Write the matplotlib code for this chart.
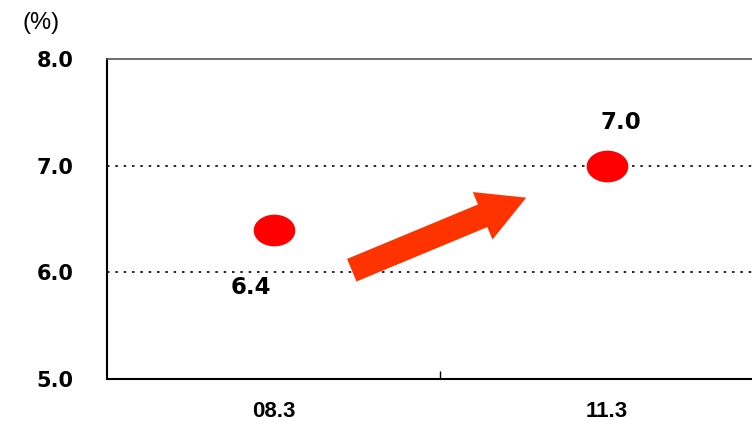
import numpy as np
import matplotlib.pyplot as plt
from matplotlib.path import Path
from matplotlib.ticker import FixedLocator

periods = ['08.3', '11.3']
rates = [6.4, 7.0]
y_ticks = [5.0, 6.0, 7.0, 8.0]

fig = plt.figure(figsize=(7.52, 4.24), dpi=100)
# plot area runs off the right side of the canvas
ax = fig.add_axes([107 / 752, 1 - 379 / 424, 666 / 752, 320 / 424])

xs = np.arange(len(periods))
ax.set_xlim(-0.5, 1.5)
ax.set_ylim(5.0, 8.0)

# flattened ellipse marker
t = np.linspace(0, 2 * np.pi, 60)
ellipse = Path(np.column_stack([np.cos(t), 0.76 * np.sin(t)]))
ax.plot(xs, rates, linestyle='none', marker=ellipse, markersize=30,
        color='#ff0000', markeredgewidth=0, zorder=5)

# value labels: first one below the point, second above
ax.annotate(f'{rates[0]:.1f}', (xs[0], rates[0]), xytext=(-16, -42),
            textcoords='offset points', ha='center', va='center',
            fontsize=16.5, fontweight='bold', family='DejaVu Sans')
ax.annotate(f'{rates[1]:.1f}', (xs[1], rates[1]), xytext=(10, 31),
            textcoords='offset points', ha='center', va='center',
            fontsize=16.5, fontweight='bold', family='DejaVu Sans')

# rising trend arrow between the two points
ax.annotate('', xy=(0.759, 6.70), xytext=(0.235, 6.02),
            arrowprops=dict(arrowstyle='simple,head_length=1.7,head_width=1.85,tail_width=0.88',
                            mutation_scale=20, fc='#ff3300', ec='none',
                            shrinkA=0, shrinkB=0), zorder=4)

# dotted guides
for y in (6.0, 7.0):
    ax.axhline(y, color='black', lw=1.2, dashes=(1.5, 3.5), zorder=1)

ax.spines['right'].set_visible(False)
ax.spines['top'].set_color('#555555')
ax.spines['top'].set_linewidth(1.2)
ax.spines['left'].set_linewidth(1.5)
ax.spines['bottom'].set_linewidth(1.5)

ax.set_yticks(y_ticks)
ax.set_yticklabels([f'{v:.1f}' for v in y_ticks], fontsize=15,
                   fontweight='bold', family='DejaVu Sans')
ax.tick_params(axis='y', length=0, pad=24)

ax.set_xticks(xs)
ax.set_xticklabels(periods, fontsize=16, fontweight='bold',
                   family='Liberation Sans')
ax.tick_params(axis='x', which='major', length=0, pad=16)
ax.xaxis.set_minor_locator(FixedLocator([0.5]))
ax.tick_params(axis='x', which='minor', direction='in', length=6, width=1)

fig.text(41 / 752, 1 - 23 / 424, '(%)', ha='center', va='center',
         fontsize=17, family='Liberation Sans')

fig.savefig('out.png', dpi=100)
